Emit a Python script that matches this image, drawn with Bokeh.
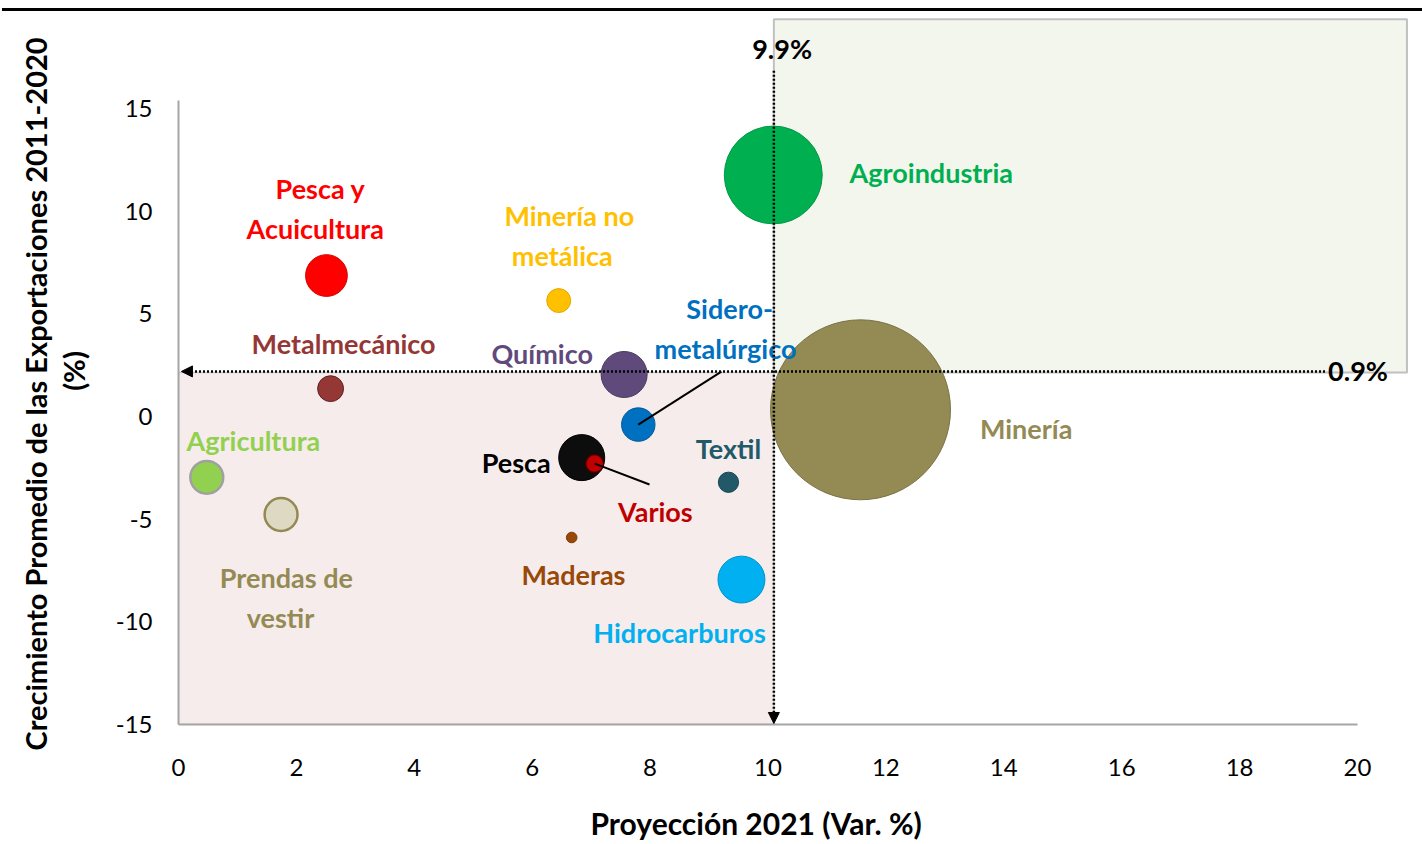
import math
from bokeh.plotting import figure
from bokeh.models import (Range1d, ColumnDataSource, Div, Arrow, NormalHead, FixedTicker,
                          Title, PrintfTickFormatter)
from bokeh.layouts import column
from bokeh.embed import file_html
from bokeh.resources import INLINE
from bokeh.core.properties import value

# ---------------- data ----------------
sectors = ["Minería", "Agroindustria", "Pesca y Acuicultura", "Minería no metálica",
           "Metalmecánico", "Químico", "Sidero-metalúrgico", "Agricultura",
           "Prendas de vestir", "Pesca", "Varios", "Textil", "Maderas", "Hidrocarburos"]
proj_2021 = [11.57, 10.09, 2.51, 6.45, 2.58, 7.56, 7.80, 0.48, 1.74, 6.84, 7.06, 9.33, 6.67, 9.55]
growth_2011_2020 = [0.33, 11.77, 6.87, 5.65, 1.36, 2.05, -0.39, -2.96, -4.77, -2.0, -2.29, -3.2, -5.89, -7.94]
exports_2020 = [26000, 7700, 1400, 460, 540, 1700, 900, 870, 870, 1700, 260, 330, 90, 1770]
ref_x = 10.1      # proyección promedio (línea vertical)
ref_y = 2.2       # crecimiento promedio (línea horizontal)
ref_x_label = "9.9%"
ref_y_label = "0.9%"
x_ticks = [0, 2, 4, 6, 8, 10, 12, 14, 16, 18, 20]
y_ticks = [-15, -10, -5, 0, 5, 10, 15]
x_title = "Proyección 2021 (Var. %)"
y_title = "Crecimiento Promedio de las Exportaciones 2011-2020"
y_title2 = "(%)"

# ---------------- styles ----------------
fill_colors = ["#948a54", "#00b050", "#ff0000", "#ffc000", "#953735", "#604a7b", "#0070c0",
               "#92d050", "#ddd9c3", "#0d0d0d", "#c00000", "#215968", "#984807", "#00b0f0"]
line_colors = ["#7a7245", "#009a45", "#d00000", "#e0a800", "#5a2020", "#4a3a60", "#005a9a",
               "#a0a0a0", "#938953", "#000000", "#400000", "#1a4550", "#7a3a05", "#0090c8"]
line_widths = [1, 1, 1, 1, 1, 1, 1, 2.5, 2.5, 1, 1.5, 1, 1, 1]
PX_PER_SQRT = 0.558  # bubble radius in px per sqrt(export)
sizes = [2 * PX_PER_SQRT * math.sqrt(v) for v in exports_2020]

FONT = "Lato"
FS = "27px"

# label text, anchor (data coords), colour
labels = [
    ("Agroindustria", 12.77, 11.88, "#00b050"),
    ("Pesca y", 2.41, 11.11, "#ff0000"),
    ("Acuicultura", 2.32, 9.16, "#ff0000"),
    ("Minería no", 6.63, 9.79, "#ffc000"),
    ("metálica", 6.51, 7.84, "#ffc000"),
    ("Sidero-", 9.35, 5.26, "#0070c0"),
    ("metalúrgico", 9.28, 3.31, "#0070c0"),
    ("Metalmecánico", 2.80, 3.56, "#953735"),
    ("Químico", 6.17, 3.07, "#604a7b"),
    ("Minería", 14.38, -0.58, "#948a54"),
    ("Agricultura", 1.27, -1.17, "#92d050"),
    ("Textil", 9.33, -1.56, "#215968"),
    ("Pesca", 5.73, -2.24, "#000000"),
    ("Varios", 8.09, -4.63, "#c00000"),
    ("Prendas de", 1.83, -7.84, "#948a54"),
    ("vestir", 1.73, -9.79, "#948a54"),
    ("Maderas", 6.70, -7.70, "#984807"),
    ("Hidrocarburos", 8.50, -10.52, "#00b0f0"),
]

# ---------------- figure ----------------
W, H = 1422, 833
p = figure(width=W, height=H, output_backend="svg", toolbar_location=None,
           x_range=Range1d(0, 20.9), y_range=Range1d(-15, 19.44),
           min_border_left=178, min_border_right=12, min_border_top=6, min_border_bottom=120)
p.outline_line_color = None
p.xgrid.visible = False
p.ygrid.visible = False
p.background_fill_color = "white"

# quadrant boxes
p.quad(left=[0], right=[ref_x], bottom=[-15], top=[ref_y - 0.05],
       fill_color="#f6ecec", line_color="#c8c8c8", line_width=1.5)
p.quad(left=[ref_x], right=[20.84], bottom=[ref_y - 0.05], top=[19.36],
       fill_color="#f3f6ed", line_color="#c0c0c0", line_width=2)

# bubbles
src = ColumnDataSource(dict(x=proj_2021, y=growth_2011_2020, size=sizes,
                            fill=fill_colors, line=line_colors, lw=line_widths))
p.scatter("x", "y", size="size", fill_color="fill", line_color="line",
          line_width="lw", source=src)

# leader lines
si = sectors.index("Sidero-metalúrgico")
va = sectors.index("Varios")
p.segment(x0=[proj_2021[si], proj_2021[va]], y0=[growth_2011_2020[si], growth_2011_2020[va]],
          x1=[9.21, 7.99], y1=[2.19, -3.31], line_color="black", line_width=2)

# labels
for t, x, y, c in labels:
    p.text(x=[x], y=[y], text=[t], text_color=c, text_font=value(FONT),
           text_font_style="bold", text_font_size=FS, text_align="center",
           text_baseline="middle")

p.text(x=[10.24], y=[17.92], text=[ref_x_label], text_color="black", text_font=value(FONT),
       text_font_style="bold", text_font_size=FS, text_align="center", text_baseline="middle")
p.text(x=[20.01], y=[2.24], text=[ref_y_label], text_color="black", text_font=value(FONT),
       text_font_style="bold", text_font_size=FS, text_align="center", text_baseline="middle")

# dotted reference arrows
p.add_layout(Arrow(end=NormalHead(size=11, fill_color="black", line_color="black"),
                   x_start=19.45, y_start=ref_y, x_end=0.05, y_end=ref_y,
                   line_color="black", line_width=2.5, line_dash="2 2"))
p.add_layout(Arrow(end=NormalHead(size=11, fill_color="black", line_color="black"),
                   x_start=ref_x, y_start=16.85, x_end=ref_x, y_end=-14.95,
                   line_color="black", line_width=2.5, line_dash="2 2"))

# axes
for ax in (p.xaxis[0], p.yaxis[0]):
    ax.axis_line_color = "#a6a6a6"
    ax.axis_line_width = 2
    ax.major_tick_line_color = None
    ax.minor_tick_line_color = None
    ax.major_tick_out = 0
    ax.major_label_text_font = FONT
    ax.major_label_text_font_size = "24px"
    ax.major_label_text_color = "#000000"
    ax.formatter = PrintfTickFormatter(format="%d")
p.xaxis.ticker = FixedTicker(ticks=x_ticks)
p.yaxis.ticker = FixedTicker(ticks=y_ticks)
p.xaxis.bounds = (0, 20)
p.yaxis.bounds = (-15, 15.4)
p.xaxis.major_label_standoff = 34
p.yaxis.major_label_standoff = 26

# axis titles (spacer panels give the gaps)
p.add_layout(Title(text=" ", text_font_size="1px", standoff=21), "below")
p.add_layout(Title(text=x_title, text_font=FONT, text_font_style="bold", text_font_size="30px",
                   align="left", offset=412, standoff=0, text_color="black"), "below")
p.add_layout(Title(text=" ", text_font_size="1px", standoff=18), "left")
p.add_layout(Title(text=y_title2, text_font=FONT, text_font_style="bold", text_font_size="29px",
                   align="center", standoff=2, text_color="black"), "left")
p.add_layout(Title(text=y_title, text_font=FONT, text_font_style="bold", text_font_size="29px",
                   align="left", offset=-26, standoff=0, text_color="black"), "left")

bar = Div(text="", width=1420, height=3, margin=(8, 0, 0, 2),
          styles={"background-color": "black", "overflow": "hidden"})
layout = column(bar, p, spacing=0)

open("out.html", "w").write(file_html(layout, INLINE))
